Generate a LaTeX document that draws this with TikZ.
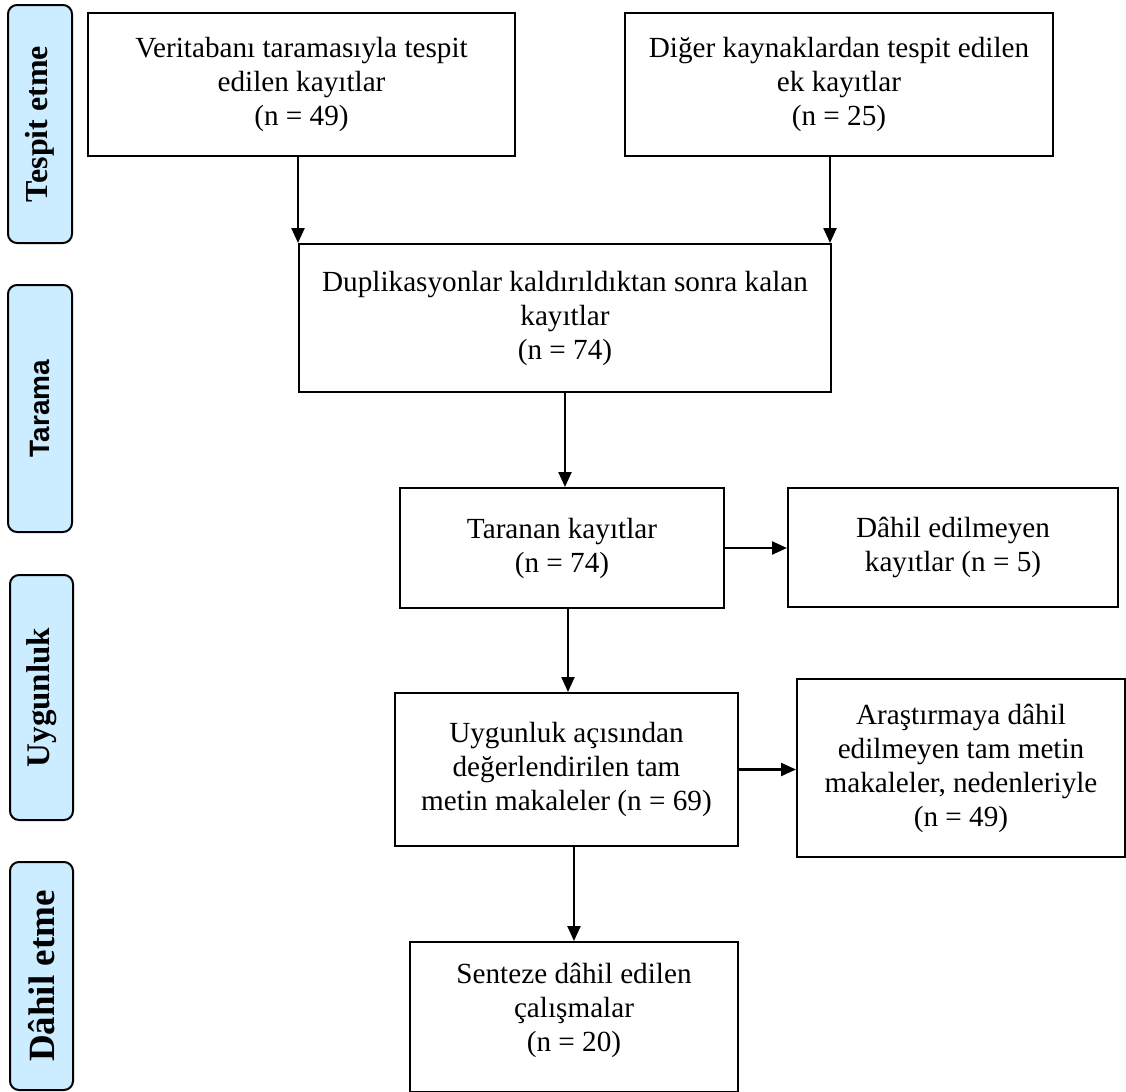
\documentclass[tikz,border=0pt]{standalone}
\usepackage{fontspec}
\setmainfont{Liberation Serif}
\newfontfamily\taramafont{Liberation Sans}
\usetikzlibrary{arrows.meta}
\definecolor{asamamavi}{RGB}{204,236,255}
\tikzset{
  kutu/.style={draw, line width=1pt, align=center, inner sep=0pt,
    font=\fontsize{14.6}{17}\selectfont},
  asama/.style={draw, line width=1pt, fill=asamamavi, rounded corners=4.5pt,
    rotate=90, inner sep=0pt, font=\bfseries},
  okcizgi/.style={-{Triangle[length=7.5pt,width=6.5pt]}, line width=1.2pt}
}
\begin{document}
\begin{tikzpicture}[x=0.5pt, y=-0.5pt]
    \useasboundingbox (0,0) rectangle (1126,1092);

    % Stage labels on the left
    \node[asama, minimum width=119pt, minimum height=32pt] (l1) at (40,124)
        {\fontsize{16}{19}\selectfont Tespit etme};
    \node[asama, minimum width=123.5pt, minimum height=32pt] (l2) at (40,408.5)
        {\taramafont\bfseries\fontsize{14}{16}\selectfont Tarama};
    \node[asama, minimum width=122.5pt, minimum height=31.5pt] (l3) at (41.5,697.5)
        {\fontsize{16.5}{19}\selectfont Uygunluk};
    \node[asama, minimum width=114pt, minimum height=31.5pt] (l4) at (41.5,976)
        {\fontsize{18.5}{21}\selectfont D\^ahil etme};

    % Identification
    \node[kutu, minimum width=213.5pt, minimum height=71.5pt] (b1) at (301.5,84.5)
        {Veritaban\i{} taramas\i{}yla tespit\\ edilen kay\i{}tlar\\ (n = 49)};
    \node[kutu, minimum width=214pt, minimum height=71.5pt] (b2) at (839,84.5)
        {Diğer kaynaklardan tespit edilen\\ ek kay\i{}tlar\\ (n = 25)};

    % Screening
    \node[kutu, minimum width=266pt, minimum height=74pt] (b3) at (565,318)
        {Duplikasyonlar kald\i{}r\i{}ld\i{}ktan sonra kalan\\ kay\i{}tlar\\ (n = 74)};
    \node[kutu, minimum width=162pt, minimum height=60pt] (b4) at (562,548)
        {Taranan kay\i{}tlar\\ (n = 74)};
    \node[kutu, minimum width=165pt, minimum height=59.5pt] (b5) at (953,547.5)
        {D\^ahil edilmeyen\\ kay\i{}tlar (n = 5)};

    % Eligibility
    \node[kutu, minimum width=171.5pt, minimum height=76.5pt] (b6) at (566.5,769.5)
        {Uygunluk aç\i{}s\i{}ndan\\ değerlendirilen tam\\ metin makaleler (n = 69)};
    \node[kutu, minimum width=164pt, minimum height=89pt] (b7) at (961,768)
        {Araşt\i{}rmaya d\^ahil\\ edilmeyen tam metin\\ makaleler, nedenleriyle\\ (n = 49)};

    % Inclusion
    \node[kutu, minimum width=164pt, minimum height=75pt] (b8) at (574,1017)
        {Senteze d\^ahil edilen\\ çal\i{}şmalar\\ (n = 20)\\[-7pt] \mbox{}};

    % Arrows
    \draw[okcizgi] (b1.south -| b3.north west) -- (b3.north west);
    \draw[okcizgi] ([xshift=-1pt]b2.south -| b3.north east) -- ([xshift=-1pt]b3.north east);
    \draw[okcizgi] (b3.south) -- (b3.south |- b4.north);
    \draw[okcizgi] (b4.east) -- (b4.east -| b5.west);
    \draw[okcizgi] ([xshift=3pt]b4.south) -- ([xshift=3pt]b4.south |- b6.north);
    \draw[okcizgi] (b6.east) -- (b6.east -| b7.west);
    \draw[okcizgi] (b6.south -| b8.north) -- (b8.north);
\end{tikzpicture}
\end{document}
